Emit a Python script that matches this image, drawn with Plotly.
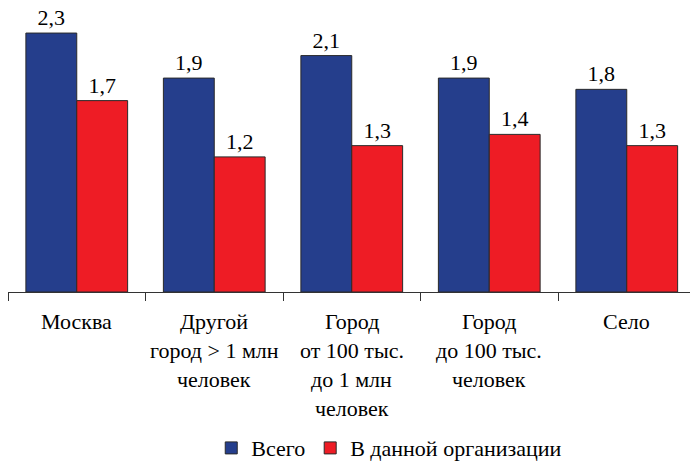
import plotly.graph_objects as go

categories = ["Москва", "Другой город > 1 млн человек", "Город от 100 тыс. до 1 млн человек",
              "Город до 100 тыс. человек", "Село"]
category_lines = [
    ["Москва"],
    ["Другой", "город > 1 млн", "человек"],
    ["Город", "от 100 тыс.", "до 1 млн", "человек"],
    ["Город", "до 100 тыс.", "человек"],
    ["Село"],
]
series_names = ["Всего", "В данной организации"]
total_values = [2.3, 1.9, 2.1, 1.9, 1.8]
org_values = [1.7, 1.2, 1.3, 1.4, 1.3]

FONT = "Times New Roman"
BLUE = "#253E8C"
RED = "#EE1C25"

def fmt(v):
    return f"{v:.1f}".replace(".", ",")

fig = go.Figure()
for name, vals, col in [(series_names[0], total_values, BLUE), (series_names[1], org_values, RED)]:
    fig.add_trace(go.Bar(
        x=categories, y=vals, name=name,
        marker=dict(color=col, line=dict(color="#2a2a2a", width=1)),
        text=[fmt(v) for v in vals], textposition="outside",
        textfont=dict(family=FONT, size=22, color="black"),
        cliponaxis=False,
    ))

for cat, lines in zip(categories, category_lines):
    for i, line in enumerate(lines):
        fig.add_annotation(
            x=cat, y=0, xref="x", yref="y", text=line, showarrow=False,
            yanchor="middle", xanchor="center", yshift=-29 - 29 * i,
            font=dict(family=FONT, size=22, color="black"),
        )

fig.update_layout(
    template="none",
    width=690, height=461,
    font=dict(family=FONT, size=22, color="black"),
    margin=dict(l=8, r=0, t=20, b=169, autoexpand=False),
    paper_bgcolor="white", plot_bgcolor="white",
    barmode="group", bargap=0.26, bargroupgap=0,
    showlegend=True,
    legend=dict(orientation="h", x=0.559, xanchor="center", yref="container", y=0.028,
                yanchor="middle", font=dict(family=FONT, size=22, color="black"),
                itemwidth=30, traceorder="normal"),
    xaxis=dict(range=[-0.5, 4.46], showticklabels=False, ticks="outside", tickson="boundaries",
               ticklen=8, tickcolor="#333", tickwidth=1.3, showline=True, linecolor="#333",
               linewidth=1.3, showgrid=False, zeroline=False),
    yaxis=dict(range=[0, 2.416], visible=False, showgrid=False, zeroline=False),
)
fig.write_html("out.html", config={"displayModeBar": False},
               post_script="document.body.style.margin='0';")
